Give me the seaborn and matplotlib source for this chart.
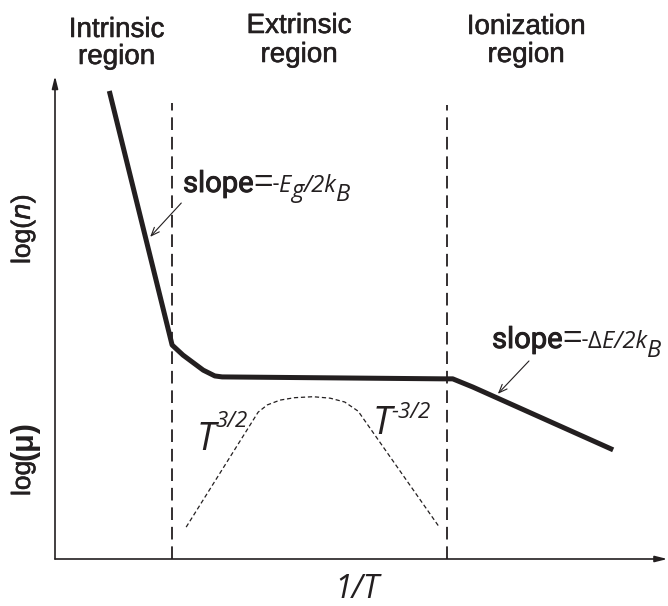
import matplotlib
matplotlib.use("Agg")
import matplotlib.pyplot as plt
import matplotlib.patheffects as pe
import seaborn as sns
import numpy as np

# carrier concentration log(n) vs 1/T (arbitrary units)
inv_t = [0.89, 1.92, 2.10, 2.43, 2.62, 2.74, 6.36, 6.52, 6.85, 9.15]
log_n = [9.69, 4.43, 4.22, 3.91, 3.79, 3.77, 3.73, 3.73, 3.56, 2.26]

# mobility log(mu) vs 1/T
mu_inv_t = [2.15, 3.33, 3.48, 3.69, 3.93, 4.23, 4.51, 4.75, 4.97, 6.30]
log_mu = [0.66, 3.04, 3.19, 3.29, 3.34, 3.36, 3.33, 3.25, 3.06, 0.66]

# region boundaries (x) and how high the dashed lines reach
boundaries = [1.92, 6.43]
boundary_tops = [9.44, 9.40]

# slope annotation arrows: (head, tail)
arrow_intrinsic = [(1.56, 6.67), (2.07, 7.37)]
arrow_ionization = [(7.26, 3.42), (7.77, 4.10)]

INK = "#231f20"

sns.set_theme(style="white")
plt.rcParams["font.family"] = ["Liberation Sans", "DejaVu Sans"]

W, H = 668, 606
fig = plt.figure(figsize=(W / 100, H / 100), dpi=100)
ax = fig.add_axes([55 / W, 1 - 559 / H, 610 / W, 483 / H])
ax.set_xlim(0, 10)
ax.set_ylim(0, 10)
ax.axis("off")
renderer = fig.canvas.get_renderer()

# a touch of stroke to get the medium weight of the original lettering
medium = [pe.withStroke(linewidth=0.7, foreground=INK)]
light_med = [pe.withStroke(linewidth=0.4, foreground=INK)]


def fx(px):
    return px / W


def fy(py):
    return 1 - py / H


def draw_runs(x_px, y_px, runs):
    """Write text pieces one after another on a common baseline (dy = raise in px)."""
    x = x_px
    for s, dy, kw in runs:
        t = fig.text(fx(x), fy(y_px - dy), s, ha="left", va="baseline",
                     color=INK, **kw)
        x = t.get_window_extent(renderer).x1


# axes with arrows
for end in [(10.04, 0), (0, 10.0)]:
    ax.annotate("", xy=end, xytext=(0, 0), annotation_clip=False,
                arrowprops=dict(arrowstyle="-|>,head_length=0.6,head_width=0.15",
                                lw=1.2, color=INK, shrinkA=0, shrinkB=0))

# region boundaries
for xb, top in zip(boundaries, boundary_tops):
    ax.plot([xb, xb], [0, top], color=INK, lw=1.3, dashes=(7.0, 3.8))

# curves
sns.lineplot(x=inv_t, y=log_n, sort=False, estimator=None, ax=ax,
             color=INK, lw=3.6, solid_capstyle="butt", solid_joinstyle="round")
sns.lineplot(x=mu_inv_t, y=log_mu, sort=False, estimator=None, ax=ax,
             color=INK, lw=0.9, dashes=False, linestyle=(0, (3.4, 2.2)))

# slope arrows
for head, tail in (arrow_intrinsic, arrow_ionization):
    ax.annotate("", xy=head, xytext=tail,
                arrowprops=dict(arrowstyle="->,head_length=0.5,head_width=0.2",
                                lw=0.8, color=INK, shrinkA=0, shrinkB=0))

# region titles
label_kw = dict(ha="center", va="baseline", fontsize=20, color=INK,
                path_effects=light_med)
fig.text(fx(116.5), fy(37), "Intrinsic", **label_kw)
fig.text(fx(116.5), fy(64), "region", **label_kw)
fig.text(fx(299), fy(33), "Extrinsic", **label_kw)
fig.text(fx(299), fy(62), "region", **label_kw)
fig.text(fx(526), fy(34), "Ionization", **label_kw)
fig.text(fx(526), fy(62), "region", **label_kw)

# slope texts
word = dict(family="Roboto", fontsize=21, path_effects=medium)
eq = dict(family="Liberation Sans", fontsize=24)
dash = dict(family="Roboto", fontsize=16)
it = dict(family="Open Sans", style="italic", fontsize=17)
up = dict(family="Open Sans", fontsize=17)
draw_runs(183, 192, [("slope", 0, word), ("=", 0, eq), ("-", 1, dash),
                     ("E", 0, it), ("g", -5, it), ("/2k", 0, it), ("B", -9, it)])
draw_runs(492, 348, [("slope", 0, word), ("=", 0, eq), ("-", 1, dash),
                     ("Δ", 0, up), ("E/2k", 0, it), ("B", -9, it)])

# mobility power laws
big_t = dict(family="Open Sans", style="italic", fontsize=27)
small = dict(family="Open Sans", style="italic", fontsize=16)
draw_runs(197, 450, [("T", 0, big_t), ("3/2", 23, small)])
draw_runs(373, 434, [("T", 0, big_t), ("-3/2", 16, small)])

# axis labels
fig.text(fx(357), fy(606), "1/T", family="Open Sans", style="italic",
         fontsize=23, color=INK, ha="center", va="bottom")
fig.text(fx(23), fy(229), r"log($n$)", rotation=90, fontsize=19, color=INK,
         ha="center", va="center", path_effects=light_med)
t_log = fig.text(fx(23), fy(496), "log", rotation=90, fontsize=19, color=INK,
                 ha="center", va="bottom", path_effects=light_med)
top_log = t_log.get_window_extent(renderer).y1
fig.text(fx(25), (top_log + 1) / H, "(μ)", rotation=90, fontsize=22,
         weight="bold", color=INK, ha="center", va="bottom")

fig.savefig("out.png", dpi=100)
